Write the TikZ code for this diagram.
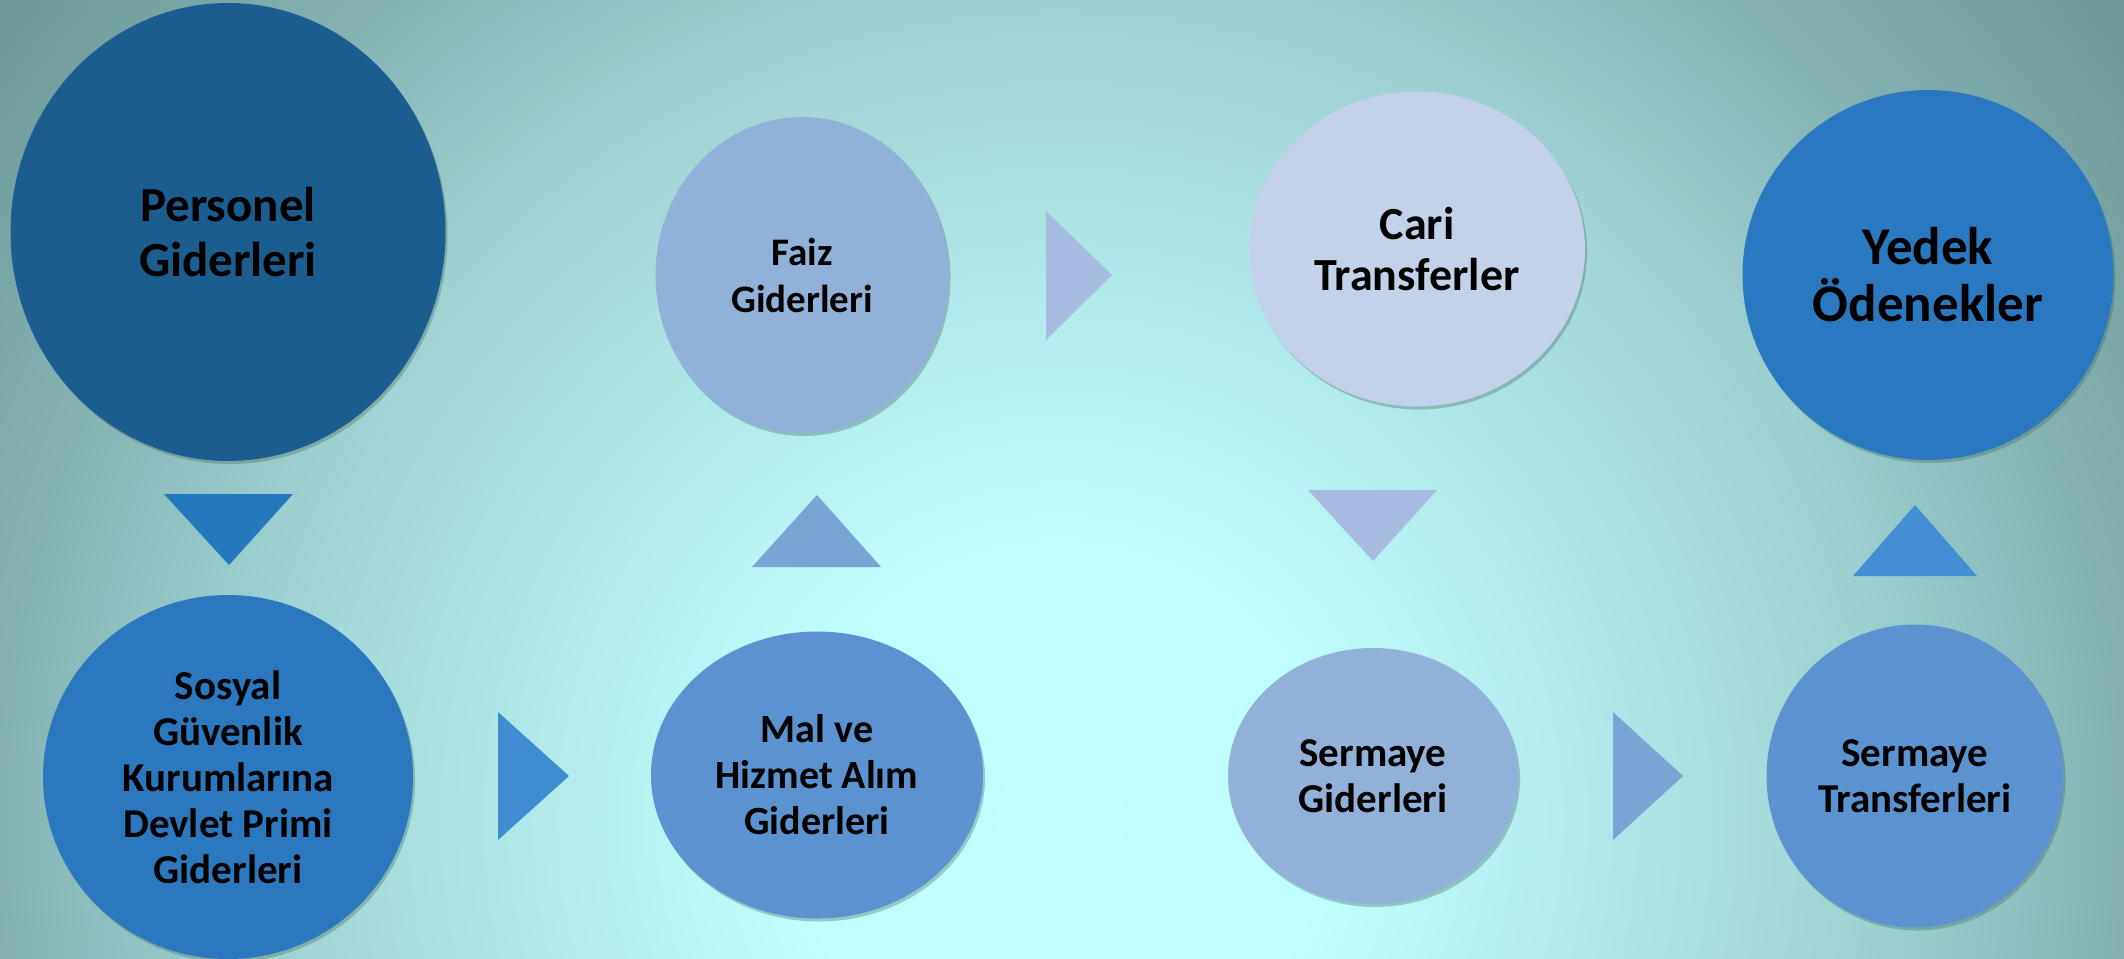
\documentclass[tikz,border=0pt]{standalone}
\usepackage{fontspec}
\setmainfont{Carlito}
\usetikzlibrary{shapes.geometric,shadows}
\definecolor{bgA}{HTML}{C2FFFF}
\definecolor{bgA2}{HTML}{C0FFFF}
\definecolor{bgB}{HTML}{A0D4D4}
\definecolor{bgC}{HTML}{85B3B4}
\definecolor{bgD}{HTML}{6E9898}
\definecolor{bgE}{HTML}{6A9494}
\definecolor{cPers}{HTML}{1B5D8F}
\definecolor{cSos}{HTML}{2B78BE}
\definecolor{cMal}{HTML}{5A93D0}
\definecolor{cFaiz}{HTML}{91B1D9}
\definecolor{cCari}{HTML}{C3D2E8}
\definecolor{cYed}{HTML}{2A78BF}
\definecolor{tA}{HTML}{2479BD}
\definecolor{tB}{HTML}{3F8CD0}
\definecolor{tC}{HTML}{76A5D6}
\definecolor{tD}{HTML}{A6BBDF}
\definecolor{tE}{HTML}{428DD3}
\definecolor{shad}{HTML}{3E6B5E}
\pgfdeclareradialshading{bgshade}{\pgfpointorigin}{color(0bp)=(bgA); color(4.1bp)=(bgA2); color(12.4bp)=(bgB); color(16.5bp)=(bgC); color(20.6bp)=(bgD); color(25bp)=(bgE)}
\tikzset{
  bub/.style={ellipse, inner sep=0pt, outer sep=0pt, align=center, text=black,
    drop shadow={shadow xshift=2pt, shadow yshift=-3pt, opacity=0.35, fill=shad}}
}
\begin{document}
\begin{tikzpicture}[x=1pt,y=-1pt]
\useasboundingbox (0,0) rectangle (2124,958);
\begin{scope}
\clip (0,0) rectangle (2124,958);
\fill[bgD] (0,0) rectangle (2124,958);
\shade[shading=bgshade] (1060,820) circle[radius=1600pt];
\end{scope}

% circles
\node[bub, fill=cPers, minimum width=435pt, minimum height=458pt,
  font=\bfseries\fontsize{49}{55}\selectfont] (pers) at (228,232) {Personel\\Giderleri};
\node[bub, fill=cSos, minimum width=370pt, minimum height=364pt,
  font=\bfseries\fontsize{41}{46}\selectfont] (sos) at (228,777) {Sosyal\\Güvenlik\\Kurumlarına\\Devlet Primi\\Giderleri};
\node[bub, fill=cMal, minimum width=332pt, minimum height=287pt,
  font=\bfseries\fontsize{40}{46}\selectfont] (mal) at (817,775) {Mal ve\\Hizmet Alım\\Giderleri};
\node[bub, fill=cFaiz, minimum width=293pt, minimum height=316pt,
  font=\bfseries\fontsize{39}{47}\selectfont] (faiz) at (802,275) {Faiz\\Giderleri};
\node[bub, fill=cCari, minimum width=336pt, minimum height=315pt,
  font=\bfseries\fontsize{46}{51}\selectfont] (cari) at (1417,249) {Cari\\Transferler};
\node[bub, fill=cFaiz, minimum width=290pt, minimum height=256pt,
  font=\bfseries\fontsize{41}{46}\selectfont] (smg) at (1373,776) {Sermaye\\Giderleri};
\node[bub, fill=cMal, minimum width=297pt, minimum height=303pt,
  font=\bfseries\fontsize{41}{46}\selectfont] (smt) at (1915,776) {Sermaye\\Transferleri};
\node[bub, fill=cYed, minimum width=371pt, minimum height=370pt,
  font=\bfseries\fontsize{53}{57}\selectfont] (yed) at (1928,275) {Yedek\\Ödenekler};

% triangle arrows
\fill[tA] (164,494) -- (293,494) -- (229,565) -- cycle;
\fill[tB] (498,712) -- (569,776) -- (498,840) -- cycle;
\fill[tC] (752,567) -- (881,567) -- (817,495) -- cycle;
\fill[tD] (1046,211) -- (1112,275) -- (1046,340) -- cycle;
\fill[tD] (1308,490) -- (1437,490) -- (1373,561) -- cycle;
\fill[tC] (1613,712) -- (1683,776) -- (1613,840) -- cycle;
\fill[tE] (1853,576) -- (1977,576) -- (1915,505) -- cycle;
\end{tikzpicture}
\end{document}
